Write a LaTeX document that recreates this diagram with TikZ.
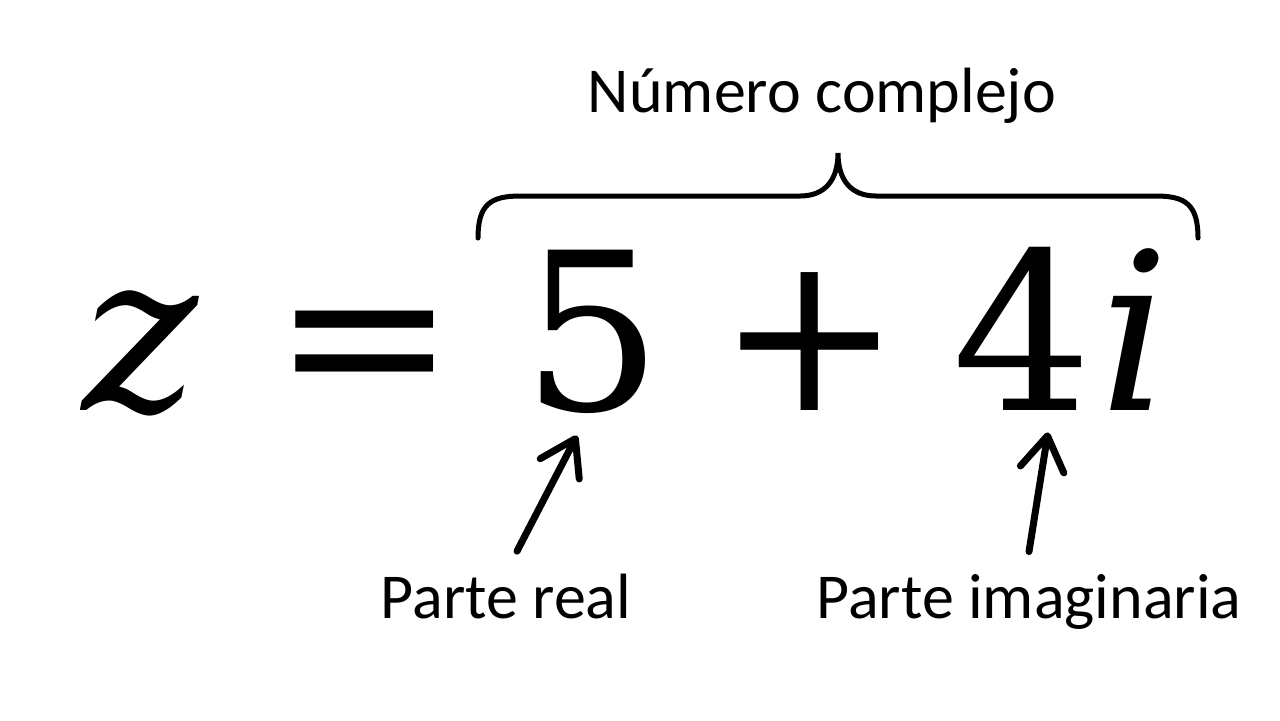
\documentclass[tikz,border=0pt]{standalone}
\usepackage{fontspec}
\setmainfont{Carlito}
\newfontfamily\eqfont{DejaVu Serif}
\usetikzlibrary{arrows.meta}

\begin{document}
\begin{tikzpicture}[x=0.5pt, y=-0.5pt,
			lbl/.style={font=\fontsize{32}{36}\selectfont, inner sep=0pt, anchor=base},
			big/.style={font=\eqfont\fontsize{110}{120}\selectfont, inner sep=0pt, anchor=base},
			pointer/.style={line width=3.5pt, line cap=round, -{Straight Barb[length=17pt, width=22pt, line cap=round, line join=round]}},
			brace/.style={line width=2.5pt, line cap=round},
		]
		\useasboundingbox (0,0) rectangle (1280,720);
		\fill[white] (0,0) rectangle (1280,720);

		\node[big] (zvar)   at (140,410)  {\itshape z};
		\node[big] (eqsign) at (365,410)  {=};
		\node[big] (five)   at (592,410)  {5};
		\node[big] (plus)   at (810,410)  {+};
		\node[big] (four)   at (1022,410) {4};
		\node[big] (ivar)   at (1135,410) {\itshape i};

		\node[lbl] (compl) at (822,112)  {Número complejo};
		\node[lbl] (real)  at (506,618)  {Parte real};
		\node[lbl] (imag)  at (1029,618) {Parte imaginaria};

		\draw[brace] (478,238) .. controls (478,205) and (490,196) .. (520,196) -- (800,196)
			.. controls (825,196) and (838,180) .. (838,153)
			.. controls (838,180) and (851,196) .. (876,196) -- (1156,196)
			.. controls (1186,196) and (1198,205) .. (1198,238);

		\draw[pointer] ([xshift=5.5pt, yshift=11pt]real.north) -- ([xshift=-7.5pt, yshift=-11pt]five.south);
		\draw[pointer] ([yshift=11pt]imag.north) -- ([xshift=13pt, yshift=-11pt]four.south);

		\end{tikzpicture}
\end{document}
